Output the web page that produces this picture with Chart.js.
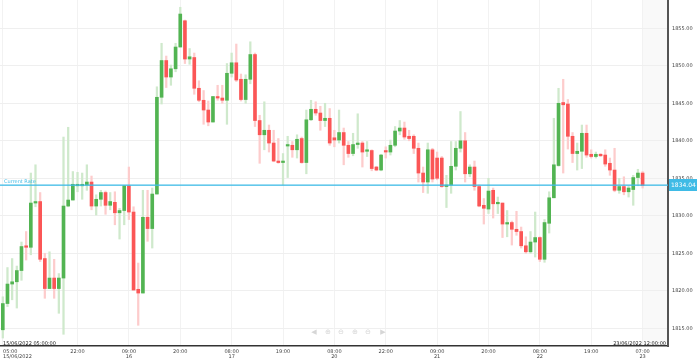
<!DOCTYPE html>
<html>
<head>
<meta charset="UTF-8">
<title>Candles</title>
<script src="https://cdn.jsdelivr.net/npm/chart.js"></script>
<style>
    html, body { margin: 0; padding: 0; background: #fff; }
    canvas { display: block; }
</style>
</head>
<body>
<canvas id="grafico" width="699" height="360"></canvas>
<script>
// velas horarias, da esquerda para a direita
var opens = [1814.8,1818.3,1820.9,1821.2,1822.7,1825.9,1825.8,1831.7,1831.9,1824.3,1820.3,1821.7,1820.3,1821.7,1831.3,1832.1,1834.0,1834.0,1834.1,1834.5,
    1831.3,1832.2,1833.1,1831.4,1831.8,1830.4,1830.7,1834.0,1830.5,1820.2,1819.7,1829.8,1828.3,1832.9,1845.8,1850.7,1848.5,1849.6,1852.5,1856.0,
    1850.9,1851.1,1847.0,1845.4,1844.1,1842.5,1845.9,1845.7,1845.4,1849.0,1850.4,1848.2,1845.5,1848.2,1851.5,1842.7,1840.8,1841.4,1839.7,1837.3,
    1837.1,1839.3,1839.4,1838.8,1840.3,1837.1,1842.8,1844.2,1843.7,1842.7,1843.0,1840.4,1840.1,1841.1,1839.4,1838.3,1839.5,1839.7,1838.6,1838.7,
    1836.5,1836.1,1838.6,1838.5,1839.4,1841.3,1841.7,1840.6,1840.6,1839.0,1835.7,1834.5,1838.8,1837.7,1837.7,1833.9,1834.1,1836.6,1839.0,1840.0,
    1835.6,1836.5,1833.9,1831.4,1830.9,1833.4,1831.6,1831.7,1828.9,1829.1,1828.2,1827.9,1826.0,1825.2,1826.5,1827.1,1824.2,1829.0,1832.4,1836.7,
    1845.1,1844.9,1840.6,1838.3,1838.6,1841.0,1838.2,1837.9,1838.2,1838.1,1837.0,1836.1,1833.4,1833.9,1833.2,1833.5,1835.1,1835.7];
var highs = [1819.2,1823.1,1824.3,1823.3,1826.5,1827.9,1835.7,1836.8,1833.1,1825.0,1825.2,1824.2,1822.3,1840.5,1841.8,1835.9,1835.8,1835.7,1836.8,1835.3,
    1832.8,1833.4,1833.3,1833.1,1833.2,1831.0,1834.0,1836.5,1831.2,1823.7,1833.4,1833.4,1833.7,1847.2,1853.0,1851.3,1850.1,1853.0,1857.8,1856.1,
    1852.3,1851.7,1848.0,1846.7,1845.3,1845.9,1847.4,1847.4,1850.3,1851.7,1852.9,1848.9,1848.8,1853.2,1851.7,1843.4,1845.2,1842.1,1841.4,1840.3,
    1838.3,1840.6,1839.9,1840.8,1840.5,1844.1,1845.4,1845.2,1844.6,1845.0,1844.3,1841.4,1844.1,1841.7,1839.9,1841.0,1843.6,1839.9,1839.9,1838.8,
    1836.6,1838.2,1839.2,1840.1,1841.9,1842.7,1842.5,1841.4,1840.8,1839.7,1836.5,1839.7,1839.0,1838.5,1837.9,1835.4,1839.9,1839.9,1843.9,1841.1,
    1836.8,1837.3,1834.1,1832.3,1835.0,1833.7,1832.5,1831.7,1830.7,1829.3,1830.6,1828.5,1827.2,1827.9,1830.5,1827.2,1829.5,1833.2,1843.0,1847.0,
    1848.2,1845.5,1841.1,1839.7,1842.1,1842.1,1838.8,1838.5,1838.3,1838.8,1837.7,1839.0,1835.0,1835.2,1834.0,1835.4,1836.2,1835.9];
var lows = [1813.7,1817.9,1818.8,1817.7,1821.4,1824.1,1824.8,1831.2,1823.9,1819.0,1820.3,1819.0,1817.0,1814.2,1831.2,1832.1,1833.2,1832.2,1833.4,1830.8,
    1830.1,1831.3,1830.2,1830.8,1828.8,1826.9,1828.8,1829.5,1820.1,1815.4,1819.7,1826.6,1825.7,1832.9,1844.9,1847.1,1847.4,1849.2,1852.5,1850.3,
    1850.2,1846.2,1845.2,1842.2,1842.0,1842.5,1845.4,1845.0,1842.2,1848.5,1847.9,1845.3,1845.0,1847.6,1841.9,1837.0,1838.8,1838.5,1837.2,1837.0,
    1834.1,1835.1,1837.8,1837.7,1837.0,1835.6,1842.7,1843.4,1841.4,1841.9,1839.4,1839.2,1839.7,1836.8,1837.8,1838.0,1839.0,1836.5,1837.9,1836.0,
    1836.0,1836.0,1837.7,1838.1,1839.2,1840.8,1840.2,1840.0,1838.3,1834.5,1833.1,1833.0,1834.5,1834.8,1833.8,1831.1,1833.0,1836.1,1838.5,1834.5,
    1835.2,1833.4,1831.2,1828.9,1830.3,1829.7,1830.3,1827.1,1827.2,1826.1,1827.4,1825.7,1825.0,1825.0,1824.5,1823.9,1823.8,1827.7,1832.4,1836.6,
    1835.7,1838.9,1837.1,1836.1,1836.3,1837.8,1837.7,1837.7,1837.9,1836.6,1835.4,1833.2,1833.0,1832.8,1832.5,1831.4,1834.0,1833.7];
var closes = [1818.3,1820.9,1821.2,1822.7,1825.9,1825.8,1831.7,1831.9,1824.2,1820.3,1821.7,1820.3,1821.7,1831.3,1832.1,1834.2,1834.1,1834.2,1834.5,1831.3,
    1832.2,1833.1,1831.4,1831.9,1830.4,1830.7,1834.0,1830.5,1820.1,1819.7,1829.8,1828.3,1832.9,1845.8,1850.7,1848.5,1849.6,1852.5,1856.9,1850.9,
    1851.2,1847.0,1845.4,1844.1,1842.5,1845.9,1845.7,1845.4,1849.0,1850.4,1848.1,1845.5,1848.2,1851.5,1842.7,1840.8,1841.4,1839.7,1837.3,1837.1,
    1837.3,1839.5,1838.8,1840.2,1837.1,1842.8,1844.2,1843.7,1842.7,1843.0,1839.7,1840.1,1841.1,1839.4,1838.3,1839.5,1839.7,1838.5,1838.8,1836.3,
    1836.1,1838.1,1838.5,1839.4,1841.3,1841.7,1840.5,1840.3,1839.0,1835.7,1834.5,1838.8,1834.9,1835.0,1833.9,1834.1,1836.6,1839.0,1840.0,1835.6,
    1836.5,1833.9,1831.3,1831.0,1833.3,1831.6,1831.7,1828.9,1829.1,1828.2,1827.9,1826.0,1825.2,1826.5,1827.1,1824.2,1829.1,1832.4,1836.8,1845.0,
    1844.8,1840.6,1838.3,1838.6,1841.0,1838.1,1837.9,1838.2,1838.0,1836.9,1836.1,1833.4,1833.9,1833.2,1833.7,1835.1,1835.7,1834.04];

// rotulos do eixo x (indice da vela, hora, dia)
var tickIdx = [0, 16, 27, 38, 49, 60, 71, 82, 93, 104, 115, 126, 137];
var tickHora = ["05:00", "22:00", "09:00", "20:00", "08:00", "19:00", "08:00", "22:00", "09:00", "20:00", "08:00", "19:00", "07:00"];
var tickDia = ["15/06/2022", "", "16", "", "17", "", "20", "", "21", "", "22", "", "23"];
var yTicks = [1815, 1820, 1825, 1830, 1835, 1840, 1845, 1850, 1855];
var currentRate = 1834.04;
var inicioTexto = "15/06/2022 05:00:00";
var fimTexto = "23/06/2022 12:00:00";

var verde = "#52b452";
var vermelho = "#fb5656";
var verdeClaro = "#cfe9cc";
var vermelhoClaro = "#fdcccc";
var azul = "#3fbbe6";
var fonte = "'DejaVu Sans', sans-serif";

var sobe = closes.map(function (c, i) { return c >= opens[i]; });
var pavios = lows.map(function (l, i) { return { x: i, y: [l, highs[i]] }; });
var corpos = opens.map(function (o, i) { return { x: i, y: [o, closes[i]] }; });

var extras = {
    id: 'extras',
    beforeDraw: function (chart) {
        var ctx = chart.ctx;
        var a = chart.chartArea;
        var x0 = chart.scales.x.getPixelForValue(137.1);
        ctx.save();
        ctx.fillStyle = "#f9f9f9";
        ctx.fillRect(x0, a.top, a.right - x0, a.bottom - a.top);
        ctx.restore();
    },
    afterDraw: function (chart) {
        var ctx = chart.ctx;
        var a = chart.chartArea;
        var sx = chart.scales.x;
        var sy = chart.scales.y;
        ctx.save();

        // linha da cotacao atual
        var yr = Math.round(sy.getPixelForValue(currentRate));
        ctx.fillStyle = azul;
        ctx.fillRect(a.left, yr - 0.5, a.right - a.left, 1.3);
        ctx.font = "5px " + fonte;
        ctx.textAlign = "left";
        ctx.textBaseline = "alphabetic";
        ctx.fillText("Current Rate", 4, yr - 2);
        ctx.fillRect(a.right + 1, yr - 6, 28, 12);
        ctx.fillStyle = "#fff";
        ctx.font = "6px " + fonte;
        ctx.textBaseline = "middle";
        ctx.fillText(currentRate.toFixed(2), a.right + 3, yr);

        // rotulos do eixo x
        ctx.fillStyle = "#444";
        ctx.font = "5px " + fonte;
        ctx.textBaseline = "alphabetic";
        tickIdx.forEach(function (t, k) {
            var px = sx.getPixelForValue(t);
            ctx.textAlign = k === 0 ? "left" : "center";
            if (k === 0) px = 3;
            ctx.fillText(tickHora[k], px, a.bottom + 7);
            if (tickDia[k]) ctx.fillText(tickDia[k], px, a.bottom + 12);
        });

        // datas do intervalo
        ctx.fillStyle = "#222";
        ctx.textAlign = "left";
        ctx.fillText(inicioTexto, 3, a.bottom - 1.5);
        ctx.textAlign = "right";
        ctx.fillText(fimTexto, a.right - 2, a.bottom - 1.5);

        // controles de navegacao
        ctx.fillStyle = "#d6d6d6";
        ctx.font = "7px " + fonte;
        ctx.textAlign = "center";
        ctx.textBaseline = "middle";
        var icones = ["\u25C0", "\u2295", "\u2296", "\u2295", "\u2296", "\u25B6"];
        var xs = [314, 328, 341, 355, 368, 383];
        icones.forEach(function (c, k) { ctx.fillText(c, xs[k], 332); });
        ctx.restore();
    }
};

new Chart(document.getElementById('grafico'), {
    type: 'bar',
    data: {
        datasets: [{
            label: 'pavio',
            data: pavios,
            backgroundColor: sobe.map(function (s) { return s ? verdeClaro : vermelhoClaro; }),
            barThickness: 1.6,
            grouped: false,
            order: 2
        }, {
            label: 'corpo',
            data: corpos,
            backgroundColor: sobe.map(function (s) { return s ? verde : vermelho; }),
            barThickness: 3,
            minBarLength: 1.5,
            grouped: false,
            order: 1
        }]
    },
    options: {
        responsive: false,
        animation: false,
        devicePixelRatio: 1,
        layout: { padding: 0 },
        plugins: {
            legend: { display: false },
            tooltip: { enabled: false }
        },
        scales: {
            x: {
                type: 'linear',
                offset: false,
                min: -0.6,
                max: 142.44,
                afterBuildTicks: function (scale) {
                    scale.ticks = tickIdx.map(function (v) { return { value: v }; });
                },
                afterFit: function (scale) {
                    scale.height = 14;
                    scale.paddingLeft = 0;
                    scale.paddingRight = 0;
                },
                ticks: { display: false },
                grid: { color: "#f2f2f2", drawTicks: false, offset: false },
                border: { color: "#333", width: 1.5 }
            },
            y: {
                position: 'right',
                min: 1812.64,
                max: 1858.77,
                afterBuildTicks: function (scale) {
                    scale.ticks = yTicks.map(function (v) { return { value: v }; });
                },
                afterFit: function (scale) {
                    scale.width = 31;
                    scale.paddingTop = 0;
                    scale.paddingBottom = 0;
                },
                ticks: {
                    font: { family: "DejaVu Sans", size: 5 },
                    color: "#444",
                    padding: 4,
                    callback: function (v) { return Number(v).toFixed(2); }
                },
                grid: { color: "#efefef", drawTicks: false },
                border: { color: "#555", width: 2 }
            }
        }
    },
    plugins: [extras]
});
</script>
</body>
</html>
